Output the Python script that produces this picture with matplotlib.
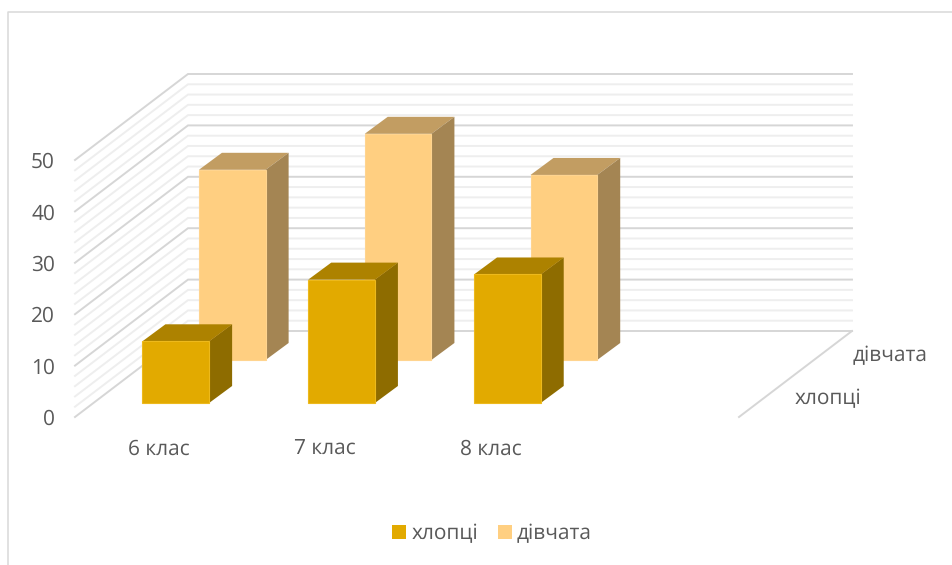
import matplotlib
matplotlib.use("Agg")
import matplotlib.pyplot as plt
from matplotlib.patches import Polygon, Rectangle

plt.rcParams['font.family'] = ['Open Sans', 'DejaVu Sans']
plt.rcParams['text.hinting'] = 'none'

categories = ['6 клас', '7 клас', '8 клас']
series_names = ['хлопці', 'дівчата']
boys = [12, 24, 25]
girls = [37, 44, 36]
value_ticks = [0, 10, 20, 30, 40, 50]
minor_ticks = [v for v in range(0, 51, 2) if v % 10 != 0]

front_colors = {'face': '#E2AA00', 'top': '#AD8200', 'side': '#8E6C00', 'edge': '#EDB91C'}
back_colors = {'face': '#FFCF81', 'top': '#C29D62', 'side': '#A48553', 'edge': '#FFD48F'}
text_color = '#595959'
major_color = '#D6D6D6'
minor_color = '#EEEEEE'
label_size = 15

# oblique projection settings, all in pixels of the figure
x0, y0 = 75, 417
px_per_value = 5.14
wall_dx, wall_dy = 113, -86
cat_width = 165.8
wall_width = 664
bar_width = 66.7
bar_off = 49
depth_dx, depth_dy = 23, -17


def project(x, depth, value):
    # x in pixels along the floor, depth 0-1 front to back
    return (x0 + x + depth * wall_dx, y0 + depth * wall_dy - value * px_per_value)


fig = plt.figure(figsize=(9.53, 5.65), dpi=100, facecolor='w')
ax = fig.add_axes((0, 0, 1, 1))
ax.set_xlim(0, 953)
ax.set_ylim(565, 0)
ax.axis('off')

# chart border, runs off the right and bottom of the picture
ax.plot([8, 8, 953], [565, 12, 12], color='#D9D9D9', lw=1.1, zorder=1)

# walls
for v in minor_ticks + value_ticks:
    c = major_color if v in value_ticks else minor_color
    z = 3 if v in value_ticks else 2
    p0 = project(0, 0, v)
    p1 = project(0, 1, v)
    p2 = project(wall_width, 1, v)
    ax.plot([p0[0], p1[0], p2[0]], [p0[1], p1[1], p2[1]], color=c, lw=1.4, zorder=z,
            solid_joinstyle='miter')
p0 = project(wall_width, 0, 0)
p1 = project(wall_width, 1, 0)
ax.plot([p0[0], p1[0]], [p0[1], p1[1]], color=major_color, lw=1.4, zorder=3)


def draw_bar(i, depth, value, colors, z):
    x = bar_off + i * cat_width
    bl = project(x, depth, 0)
    br = project(x + bar_width, depth, 0)
    tl = project(x, depth, value)
    tr = project(x + bar_width, depth, value)
    shift = lambda p: (p[0] + depth_dx, p[1] + depth_dy)
    ax.add_patch(Polygon([tl, tr, shift(tr), shift(tl)], closed=True, fc=colors['top'], ec='none', zorder=z))
    ax.add_patch(Polygon([br, tr, shift(tr), shift(br)], closed=True, fc=colors['side'], ec='none', zorder=z))
    ax.add_patch(Polygon([bl, br, tr, tl], closed=True, fc=colors['face'], ec=colors['edge'], lw=0.8, zorder=z + 0.1))


for i, v in enumerate(girls):
    draw_bar(i, 0.663, v, back_colors, 5)
for i, v in enumerate(boys):
    draw_bar(i, 0.163, v, front_colors, 6)

# value labels
for v in value_ticks:
    ax.text(55, 425 - v * px_per_value, str(v), ha='right', va='baseline', fontsize=label_size, color=text_color)

# category labels
for i, name in enumerate(categories):
    ax.text(159 + i * cat_width, 455, name, ha='center', va='baseline', fontsize=label_size, color=text_color)

# depth axis labels
ax.text(795, 404, series_names[0], ha='left', va='baseline', fontsize=label_size, color=text_color)
ax.text(853, 361, series_names[1], ha='left', va='baseline', fontsize=label_size, color=text_color)

# legend
ax.add_patch(Rectangle((392, 525), 14, 14, fc=front_colors['face'], ec='none'))
ax.text(412, 539, series_names[0], ha='left', va='baseline', fontsize=label_size, color=text_color)
ax.add_patch(Rectangle((498, 525), 14, 14, fc=back_colors['face'], ec='none'))
ax.text(517, 539, series_names[1], ha='left', va='baseline', fontsize=label_size, color=text_color)

fig.savefig('out.png', dpi=100)
